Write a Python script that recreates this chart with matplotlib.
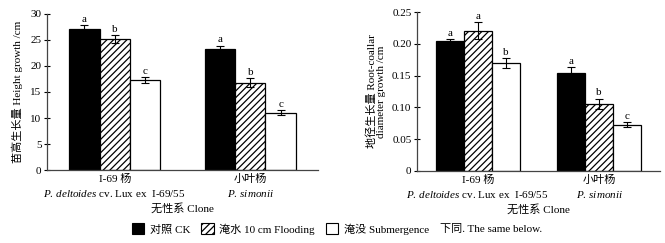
import numpy as np
import matplotlib.pyplot as plt
from matplotlib.patches import Patch

plt.rcParams.update({
    "font.family": ["Liberation Serif", "Noto Sans CJK SC"],
    "font.size": 8,
    "mathtext.fontset": "custom",
    "mathtext.rm": "Liberation Serif",
    "mathtext.it": "Liberation Serif:italic",
    "hatch.linewidth": 0.9,
    "axes.linewidth": 0.9,
})

clones = ["I-69 杨\n$\\it{P.\\,deltoides}$ cv. Lux ex  I-69/55", "小叶杨\n$\\it{P.\\,simonii}$"]
treatments = ["对照 CK", "淹水 10 cm Flooding", "淹没 Submergence"]

height_mean = [[27.1, 23.3], [25.2, 16.8], [17.3, 11.0]]
height_err = [[0.7, 0.6], [0.7, 0.8], [0.5, 0.5]]
height_sig = [["a", "a"], ["b", "b"], ["c", "c"]]

diam_mean = [[0.204, 0.154], [0.221, 0.106], [0.170, 0.073]]
diam_err = [[0.004, 0.009], [0.013, 0.008], [0.008, 0.004]]
diam_sig = [["a", "a"], ["a", "b"], ["b", "c"]]

styles = [
    dict(color="black", edgecolor="black"),
    dict(color="white", edgecolor="black", hatch="/////"),
    dict(color="white", edgecolor="black"),
]

fig = plt.figure(figsize=(6.65, 2.43), dpi=100)
ax1 = fig.add_axes([0.0707, 0.3004, 0.4075, 0.642])
ax2 = fig.add_axes([0.627, 0.2963, 0.3654, 0.654])


def draw(ax, means, errs, sigs, width, off):
    x = np.arange(len(clones))
    for i in range(3):
        pos = x + (i - 1) * width
        ax.bar(pos, means[i], width, linewidth=0.9, **styles[i])
        ax.errorbar(pos, means[i], yerr=errs[i], fmt="none", ecolor="black",
                    elinewidth=0.8, capsize=3, capthick=0.8)
        for p, m, e, s in zip(pos, means[i], errs[i], sigs[i]):
            ax.text(p, m + e + off, s, ha="center", va="bottom", fontsize=8)
    ax.set_xlim(-0.5, 1.5)
    ax.set_xticks(x)
    ax.set_xticklabels(clones, linespacing=1.45)
    ax.tick_params(axis="x", length=0, pad=3)
    ax.tick_params(axis="y", direction="inout", length=4, width=0.8, pad=2)
    ax.spines["top"].set_visible(False)
    ax.spines["right"].set_visible(False)
    for sp in ["left", "bottom"]:
        ax.spines[sp].set_color("#444444")
    ax.set_xlabel("无性系 Clone", labelpad=3)


draw(ax1, height_mean, height_err, height_sig, 0.225, 0.3)
ax1.set_ylim(0, 30)
ax1.set_yticks(np.arange(0, 31, 5))
ax1.set_ylabel("苗高生长量 Height growth /cm", labelpad=5)

draw(ax2, diam_mean, diam_err, diam_sig, 0.23, 0.002)
ax2.set_ylim(0, 0.25)
ax2.set_yticks(np.arange(0, 0.26, 0.05))
ax2.set_yticklabels(["0", "0.05", "0.10", "0.15", "0.20", "0.25"])
ax2.set_ylabel("地径生长量 Root-coallar\ndiameter growth /cm", labelpad=4, linespacing=1.1)

handles = [Patch(facecolor=s["color"], edgecolor="black", hatch=s.get("hatch"), linewidth=0.8)
           for s in styles]
fig.legend(handles, treatments, ncol=3, loc="center left", bbox_to_anchor=(0.19, 0.058),
           frameon=False, handlelength=1.1, handleheight=1.1, handletextpad=0.5,
           columnspacing=1.0, borderpad=0)
fig.text(0.662, 0.058, "下同. The same below.", ha="left", va="center", fontsize=8)

fig.savefig("out.png", dpi=100)
